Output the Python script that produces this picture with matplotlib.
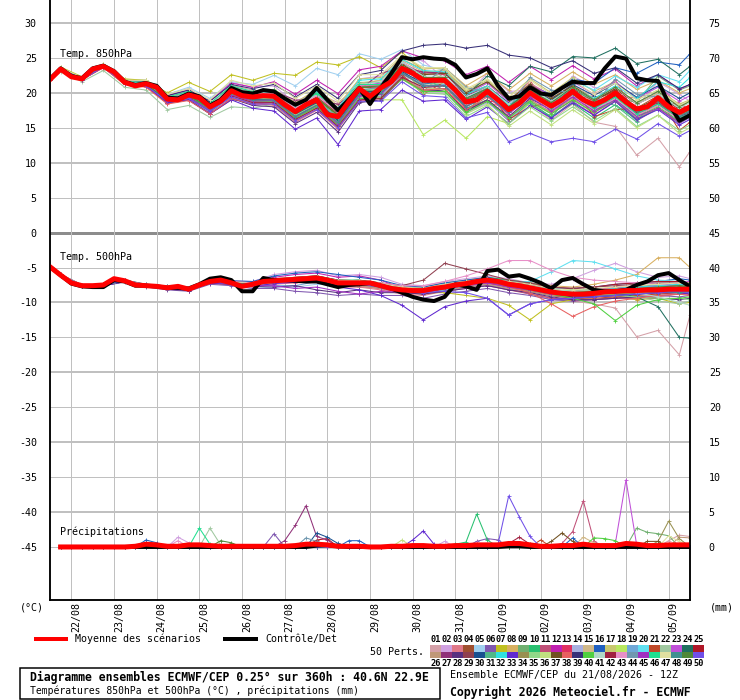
import matplotlib
matplotlib.use("Agg")
import matplotlib.pyplot as plt
from matplotlib.lines import Line2D
from matplotlib.patches import Rectangle

plt.rcParams["font.family"] = ["DejaVu Sans Mono"]
plt.rcParams["axes.unicode_minus"] = False

W, H = 740, 700

# ---------------- data ----------------
# 6-hourly steps for mean / control (hours since 21/08 12Z)
HOURS_6H = list(range(0, 361, 6))
# members are read every 12 h (18Z / 06Z) plus both ends
HOURS_MEM = [0] + list(range(6, 360, 12)) + [360]
PRECIP_HOURS = list(range(6, 361, 6))

DAY_HOURS = list(range(12, 360, 24))
DAY_LABELS = ["22/08", "23/08", "24/08", "25/08", "26/08", "27/08", "28/08", "29/08",
              "30/08", "31/08", "01/09", "02/09", "03/09", "04/09", "05/09"]

T850_MEAN = [21.9, 23.4, 22.3, 22.0, 23.4, 23.8, 23.0, 21.5, 21.0, 21.3,
             20.8, 19.1, 19.0, 19.7, 19.3, 18.0, 18.8, 20.3, 19.6, 19.4,
             19.6, 19.5, 18.3, 17.3, 18.3, 19.0, 16.9, 16.6, 18.7, 20.6,
             19.5, 20.7, 21.6, 23.5, 22.8, 21.8, 21.8, 21.8, 20.4, 18.7,
             19.0, 20.2, 19.0, 17.6, 18.5, 20.0, 19.0, 18.1, 19.0, 20.2,
             19.0, 18.3, 19.0, 20.0, 18.7, 17.7, 18.0, 19.3, 18.0, 17.2, 18.0]
T850_CTRL = [22.0, 23.5, 22.4, 22.1, 23.5, 23.9, 23.1, 21.6, 21.1, 21.4,
             21.0, 19.3, 19.2, 19.9, 19.5, 18.2, 19.0, 20.7, 20.1, 19.9,
             20.4, 20.2, 19.2, 18.3, 19.0, 20.7, 19.0, 17.5, 19.0, 20.7,
             18.4, 20.7, 22.8, 25.1, 24.8, 25.1, 24.9, 24.8, 24.0, 22.2,
             22.7, 23.5, 21.0, 19.2, 19.5, 20.8, 19.9, 19.7, 20.7, 21.6,
             21.4, 21.4, 23.5, 25.2, 24.9, 22.1, 21.8, 21.7, 18.5, 16.0, 16.8]

T500_MEAN = [-4.9, -6.1, -7.2, -7.6, -7.6, -7.5, -6.6, -6.9, -7.5, -7.6,
             -7.7, -7.9, -7.7, -8.1, -7.5, -7.0, -6.8, -7.2, -7.7, -7.4,
             -7.0, -6.9, -6.8, -6.7, -6.6, -6.5, -6.8, -7.2, -7.2, -7.2,
             -7.2, -7.6, -8.0, -8.2, -8.3, -8.3, -8.0, -7.8, -7.5, -7.3,
             -7.0, -6.8, -7.0, -7.4, -7.6, -7.9, -8.2, -8.5, -8.7, -8.8,
             -8.8, -8.7, -8.5, -8.4, -8.3, -8.3, -8.2, -8.2, -8.1, -8.1, -8.1]
T500_CTRL = [-4.9, -6.1, -7.3, -7.7, -7.8, -7.8, -6.8, -7.0, -7.6, -7.6,
             -7.7, -7.9, -7.9, -8.0, -7.4, -6.6, -6.4, -6.8, -8.4, -8.4,
             -6.5, -6.8, -6.8, -6.9, -7.0, -7.0, -7.4, -7.8, -7.5, -7.4,
             -7.2, -7.6, -8.0, -8.6, -9.2, -9.6, -9.8, -9.2, -7.4, -7.7,
             -8.2, -5.5, -5.3, -6.3, -6.1, -6.6, -7.2, -8.0, -6.8, -6.5,
             -7.4, -8.2, -8.4, -8.4, -8.2, -7.5, -7.0, -6.1, -5.8, -6.8, -7.7]

T850_MEMBERS = [
    [21.9,23.6,21.8,23.9,21.8,21.1,19.6,20.0,17.5,21.1,20.4,20.0,18.8,20.0,18.6,21.1,20.2,22.5,21.8,20.3,18.2,20.7,16.6,18.5,16.1,18.4,15.8,15.2,11.1,13.5,9.4,11.6],
    [21.8,23.3,22.1,24.0,21.7,21.8,19.8,20.6,18.9,21.5,20.8,21.0,18.5,20.4,17.9,22.0,22.4,25.0,24.6,22.0,19.6,22.8,20.2,20.4,18.6,22.4,20.8,20.2,18.0,21.6,19.8,18.8],
    [22.0,23.2,21.9,23.6,21.2,20.9,18.6,19.0,17.2,19.6,18.5,18.2,15.8,17.5,14.8,18.9,19.5,22.0,22.4,20.2,18.4,18.6,17.8,21.4,19.6,19.2,17.0,19.8,19.2,21.6,17.6,19.0],
    [21.9,23.5,22.1,23.8,21.6,21.0,18.5,19.0,17.0,19.0,18.8,19.8,17.9,19.9,17.0,20.2,20.8,24.2,22.8,22.9,19.8,21.0,18.5,20.9,19.0,21.0,19.0,20.2,17.5,19.0,16.5,17.0],
    [21.9,23.6,22.2,24.0,21.9,21.8,19.8,20.8,19.2,21.6,21.2,22.5,21.0,23.5,22.6,25.6,24.8,26.2,24.0,23.2,20.0,21.5,18.8,20.5,18.2,19.8,17.5,19.2,16.8,18.4,16.5,17.3],
    [21.8,23.4,22.0,23.7,21.3,21.4,19.5,20.0,18.3,20.2,19.0,18.8,16.5,18.2,15.5,19.5,20.1,23.0,20.8,20.5,17.2,18.8,16.0,18.6,16.5,18.8,16.8,18.8,16.0,17.8,15.6,16.5],
    [22.0,23.7,22.3,24.1,22.0,21.8,20.0,21.5,20.2,22.6,21.8,22.8,22.5,24.4,24.0,25.2,23.6,25.8,23.2,22.0,19.0,20.8,17.2,19.6,17.6,19.9,18.0,19.4,17.0,18.8,16.6,17.4],
    [21.9,23.3,21.9,23.8,21.6,21.2,19.0,19.6,17.8,20.5,19.6,19.9,17.6,19.4,17.0,21.2,21.8,24.8,23.4,23.6,21.0,22.8,20.4,22.8,21.0,23.0,21.2,22.6,20.5,21.8,20.0,20.6],
    [21.9,23.4,22.0,23.8,21.4,21.2,19.0,19.5,17.6,19.9,19.0,19.2,16.8,18.8,16.2,20.3,20.4,23.4,20.2,23.0,20.6,19.8,17.2,20.2,18.8,21.0,17.4,19.4,18.6,22.4,20.4,21.0],
    [21.9,23.5,22.1,23.9,21.5,21.4,19.2,19.9,18.1,20.6,19.9,20.4,18.4,20.0,17.6,21.5,21.5,24.0,21.6,21.0,17.8,19.0,16.4,18.5,16.6,18.5,16.4,18.3,16.2,17.8,15.8,16.8],
    [21.8,23.3,21.9,23.7,21.4,21.1,18.9,19.4,17.6,19.8,18.8,18.6,16.2,17.8,15.2,19.2,19.4,22.4,20.5,20.6,17.5,19.0,16.3,19.0,17.2,19.6,17.8,19.8,17.4,19.1,17.0,17.6],
    [21.9,23.5,22.1,23.9,21.7,21.6,19.6,20.4,18.8,21.4,20.8,21.6,19.8,21.8,19.9,23.3,23.8,26.0,25.0,24.6,22.6,23.8,21.5,23.8,21.9,23.9,22.0,23.4,21.0,22.6,20.5,21.2],
    [21.9,23.4,21.9,23.7,21.4,21.0,18.8,19.2,17.4,19.4,18.4,18.6,16.4,18.6,16.0,20.0,20.4,23.2,23.0,22.6,17.6,18.8,18.6,21.8,17.0,19.0,19.6,21.8,16.8,18.2,18.6,17.4],
    [21.9,23.3,22.0,23.8,21.6,21.3,19.4,20.2,18.4,20.8,19.6,19.4,17.0,18.4,15.8,19.8,19.6,22.5,20.4,20.2,17.0,18.6,16.2,18.8,17.0,19.4,17.6,19.6,17.0,18.4,16.4,17.2],
    [21.9,23.6,22.0,23.9,21.6,21.5,19.4,20.0,18.2,20.6,19.8,20.0,17.8,19.6,17.4,21.4,21.8,24.6,23.0,23.2,20.2,21.6,19.0,21.4,19.2,21.2,19.2,20.8,18.6,20.0,18.2,18.8],
    [21.9,23.4,22.0,23.8,21.5,21.2,18.9,19.5,17.6,19.9,19.0,19.0,16.6,18.4,15.6,19.6,19.8,22.8,21.2,21.8,19.2,20.8,18.6,21.0,19.8,22.0,21.4,23.6,22.8,24.4,24.0,25.6],
    [21.9,23.4,22.1,23.9,21.6,21.4,19.3,20.1,18.4,20.9,20.1,20.5,18.6,20.5,18.2,22.0,22.2,25.2,23.6,23.4,20.4,21.8,19.4,22.0,20.0,22.2,20.2,21.6,19.0,20.4,18.4,19.0],
    [21.9,23.5,22.0,23.8,21.5,21.2,19.2,19.6,17.8,20.4,19.6,19.8,17.8,19.4,17.5,20.8,19.0,19.0,14.0,16.1,13.5,16.6,15.6,18.6,17.0,19.6,18.0,19.8,17.2,19.0,16.8,17.6],
    [21.9,23.3,21.9,23.7,21.3,21.0,18.7,19.2,17.2,19.5,18.6,18.6,16.2,17.9,15.3,19.4,19.8,22.7,21.0,21.2,18.4,19.8,17.2,19.6,17.8,19.8,17.8,19.6,17.2,18.8,16.8,17.4],
    [21.9,23.4,22.0,23.9,21.5,21.3,19.2,19.8,18.1,20.2,19.4,19.4,17.0,18.8,16.4,20.4,20.6,23.6,22.0,22.2,19.0,20.6,18.2,20.8,19.4,21.8,20.4,22.4,20.8,22.6,21.6,23.2],
    [21.9,23.4,22.0,23.8,21.5,21.3,19.0,19.4,17.6,19.8,18.9,19.2,16.9,18.4,15.9,19.7,19.9,22.6,19.8,21.6,18.8,20.6,16.2,18.0,18.6,20.8,16.6,17.6,17.8,19.6,14.6,15.8],
    [21.8,23.0,21.6,23.2,20.8,20.4,17.6,18.2,16.5,18.0,17.8,18.4,16.0,18.2,15.6,19.6,20.0,23.0,21.2,21.4,18.6,20.2,17.8,20.4,18.6,20.6,18.6,20.2,17.8,19.2,17.0,17.8],
    [21.9,23.5,22.1,23.9,21.6,21.4,19.4,20.2,18.4,20.8,20.0,20.2,18.0,19.8,17.4,21.0,21.4,24.4,22.6,22.8,19.8,21.4,18.8,21.2,19.6,21.6,19.8,21.6,19.2,20.8,18.8,19.6],
    [21.9,23.4,22.0,23.8,21.4,21.2,19.0,19.6,17.8,20.1,19.2,19.2,16.9,18.7,16.2,20.2,20.2,23.2,21.8,22.2,19.6,22.4,21.0,23.8,23.0,25.2,25.0,26.4,24.2,24.8,22.6,23.8],
    [21.9,23.5,22.0,23.9,21.6,21.5,19.4,19.9,18.2,20.6,19.8,20.0,17.6,19.4,17.0,20.8,20.8,23.6,21.8,21.6,18.6,20.0,17.6,20.2,18.4,20.6,18.8,20.6,18.4,19.8,17.6,18.2],
    [21.9,23.4,21.9,23.7,21.4,21.1,18.8,19.3,17.5,19.6,18.7,18.8,16.4,18.0,15.4,19.2,19.4,22.2,20.4,20.2,17.4,18.9,16.4,19.0,17.2,19.2,17.2,18.8,16.4,17.8,15.8,16.6],
    [21.9,23.5,22.0,23.9,21.6,21.4,19.3,20.0,18.3,20.7,19.9,20.2,19.0,18.8,18.4,20.4,22.8,23.6,23.0,22.8,19.6,20.8,18.0,20.2,18.2,20.2,18.0,19.6,17.0,18.4,16.2,16.8],
    [21.9,23.3,21.9,23.7,21.3,21.0,18.6,19.0,17.0,19.2,18.2,18.0,15.6,17.2,14.4,18.6,19.0,22.0,20.2,20.4,17.4,19.0,16.6,19.2,17.6,19.6,17.8,19.6,17.2,18.8,16.6,17.2],
    [21.9,23.4,22.0,23.8,21.5,21.3,19.1,19.8,18.0,20.4,19.6,19.8,17.6,19.4,17.0,20.9,21.2,24.0,22.2,22.0,19.0,20.4,17.8,20.2,18.2,20.2,18.2,19.8,17.4,18.8,16.8,17.4],
    [21.9,23.4,22.0,23.8,21.5,21.2,19.0,19.4,17.7,20.0,19.0,19.2,16.8,18.6,16.0,20.0,20.2,23.0,21.4,21.6,18.8,20.4,18.0,20.6,19.0,21.2,19.6,21.4,19.4,21.0,19.2,20.0],
    [21.9,23.5,22.1,23.9,21.6,21.4,19.3,19.9,18.2,20.5,19.6,19.6,17.4,19.0,16.6,20.4,20.4,23.2,22.6,20.2,17.0,20.8,18.4,18.6,16.4,20.4,19.0,18.2,15.8,19.8,17.8,16.6],
    [21.9,23.4,22.0,23.8,21.5,21.3,19.1,19.8,18.1,20.5,19.8,20.2,18.2,20.2,17.8,21.8,22.0,24.8,23.2,23.0,19.8,21.0,18.2,20.4,18.4,20.8,19.2,21.0,19.2,21.6,20.8,22.2],
    [21.9,23.4,21.9,23.7,21.3,21.0,18.6,19.0,17.0,19.0,17.8,17.4,14.8,16.4,12.6,17.4,17.6,20.4,18.8,19.0,16.2,18.0,15.6,18.2,16.4,18.6,16.8,18.8,16.2,17.6,15.4,16.2],
    [21.9,23.5,22.0,23.8,21.6,21.4,19.2,19.8,18.2,20.6,19.7,19.8,17.6,19.3,16.9,20.8,21.0,23.8,22.0,22.0,18.9,20.4,17.8,20.2,18.2,20.2,18.2,19.8,17.4,18.8,16.8,17.6],
    [21.9,23.4,22.0,23.9,21.5,21.3,19.1,19.7,18.0,20.2,19.2,19.2,16.8,18.4,15.8,19.6,19.4,22.0,20.0,19.8,16.6,18.2,15.6,18.0,16.0,18.0,16.0,17.8,15.2,16.8,14.6,15.4],
    [21.9,23.5,22.1,23.8,21.6,21.3,19.2,19.8,18.1,20.3,19.5,19.6,17.4,19.2,16.8,20.6,20.5,22.8,20.8,20.4,17.0,18.4,15.2,17.4,15.4,17.6,15.6,17.6,15.0,16.8,14.2,15.0],
    [21.9,23.4,22.0,23.8,21.5,21.3,19.0,19.6,17.8,20.2,19.4,19.6,17.4,19.2,16.8,20.8,21.0,24.0,22.6,22.8,20.0,21.6,19.0,21.2,19.2,21.0,19.0,20.4,17.8,19.2,17.0,17.6],
    [21.9,23.3,21.9,23.6,21.2,20.8,18.4,18.9,17.0,19.2,18.4,18.4,16.0,17.6,15.0,18.8,19.2,22.0,20.4,20.6,17.6,19.4,17.0,19.6,17.8,20.0,18.0,19.8,17.6,19.0,17.0,17.8],
    [21.9,23.5,22.1,23.9,21.7,21.6,19.6,20.4,18.8,21.2,20.6,21.2,19.4,21.2,19.2,22.6,23.2,26.0,26.8,27.0,26.4,26.8,25.4,25.0,23.6,24.6,22.8,23.6,21.4,22.6,20.6,21.2],
    [21.9,23.4,22.0,23.8,21.5,21.2,19.0,19.5,17.6,19.8,18.8,18.8,16.4,18.0,15.4,19.2,19.2,22.0,20.2,20.2,17.2,18.8,16.4,18.8,17.0,19.0,17.2,19.0,16.6,18.0,16.0,16.8],
    [21.9,23.5,22.1,23.9,21.6,21.5,19.4,20.1,18.4,20.8,20.0,20.2,18.0,19.8,17.6,21.2,21.6,24.4,22.4,22.4,19.4,20.8,18.4,20.8,18.8,20.8,19.0,20.8,18.4,19.8,17.8,18.6],
    [21.9,23.4,22.0,23.8,21.4,21.1,18.8,19.3,17.4,19.6,18.6,18.6,16.2,17.8,15.2,19.0,19.2,22.2,20.8,21.0,18.2,19.8,17.4,19.8,18.0,20.0,18.0,19.6,17.2,18.6,16.4,17.0],
    [21.9,23.4,22.0,23.8,21.5,21.3,19.2,19.9,18.2,20.6,19.8,20.0,17.8,19.6,17.2,21.0,21.0,23.8,21.8,21.6,18.4,19.8,17.2,19.6,17.6,19.6,17.6,19.2,16.8,18.2,16.2,17.0],
    [21.9,23.5,22.0,23.8,21.6,21.4,19.2,19.8,18.0,20.2,19.2,19.4,17.2,18.8,16.4,20.4,20.8,23.8,21.2,23.6,20.8,20.0,17.8,22.2,20.4,20.0,18.2,22.0,19.8,19.4,16.8,18.2],
    [21.9,23.4,21.9,23.7,21.4,21.1,18.8,19.3,17.5,19.7,18.8,18.9,16.6,18.2,15.6,19.6,19.8,22.8,21.0,21.0,18.0,19.6,17.0,19.4,17.4,19.4,17.4,19.0,16.6,17.8,15.8,16.6],
    [21.9,23.5,22.1,23.9,21.6,21.5,19.4,20.2,18.5,21.0,20.2,20.4,18.2,19.9,17.6,21.2,21.2,23.8,21.8,21.8,18.6,20.2,17.6,19.8,17.8,19.8,17.8,19.4,17.0,18.4,16.4,17.0],
    [21.9,23.6,22.2,24.1,21.8,21.8,19.8,20.6,19.0,21.8,21.0,21.4,19.2,21.0,18.8,22.6,22.6,25.4,23.6,23.6,20.6,22.0,19.4,21.8,19.8,21.8,19.8,21.4,19.0,20.4,18.2,18.8],
    [21.9,23.4,22.0,23.8,21.5,21.2,19.0,19.6,17.8,20.0,19.0,19.0,16.6,18.2,15.8,19.8,20.0,22.8,21.0,21.0,18.0,19.6,17.2,19.8,18.0,20.0,18.0,19.8,17.4,18.8,16.6,17.4],
    [21.9,23.4,22.0,23.8,21.4,21.2,19.0,19.6,17.9,20.2,19.4,19.6,17.4,19.2,16.8,20.8,21.0,23.8,22.2,22.2,19.2,20.6,18.0,20.4,18.6,20.8,19.0,20.8,18.6,20.2,18.0,18.8],
    [21.9,23.4,22.0,23.7,21.4,21.0,18.8,19.2,17.4,19.4,18.4,18.4,16.0,17.6,15.0,18.8,18.8,21.6,19.6,19.4,16.4,17.2,13.0,14.2,13.0,13.5,13.0,14.8,13.4,15.6,13.8,14.6],
]

T500_MEMBERS = [
    [-4.9,-6.1,-7.5,-7.6,-7.0,-7.7,-8.0,-8.3,-7.2,-7.4,-7.8,-7.2,-6.9,-6.8,-7.6,-7.8,-8.0,-8.6,-8.8,-8.2,-7.8,-7.4,-8.0,-8.8,-9.6,-9.8,-10.2,-10.8,-14.9,-14.0,-17.5,-11.8],
    [-4.9,-6.0,-7.5,-7.4,-6.8,-7.5,-7.7,-8.0,-6.8,-6.9,-7.0,-6.0,-5.6,-5.4,-6.2,-6.0,-6.4,-7.4,-7.6,-7.0,-6.6,-6.2,-6.6,-7.2,-7.4,-6.6,-5.4,-4.4,-5.6,-6.4,-6.2,-6.6],
    [-4.9,-6.1,-7.7,-7.6,-7.0,-7.7,-8.1,-8.3,-7.3,-7.5,-7.8,-7.4,-7.2,-7.0,-7.8,-7.8,-8.2,-8.8,-9.0,-8.4,-7.8,-7.4,-8.2,-8.6,-9.4,-9.8,-9.6,-9.2,-9.6,-9.2,-8.8,-8.6],
    [-4.9,-6.1,-7.6,-7.4,-6.8,-7.5,-7.8,-8.0,-6.9,-7.0,-7.2,-6.6,-6.4,-6.2,-7.0,-6.8,-7.4,-8.0,-8.0,-7.4,-7.0,-6.6,-7.2,-7.6,-8.2,-8.4,-8.2,-8.0,-7.6,-7.8,-7.6,-7.8],
    [-4.9,-6.1,-7.6,-7.5,-6.9,-7.6,-8.0,-8.2,-7.2,-7.4,-8.0,-7.8,-7.8,-7.4,-7.4,-7.6,-7.8,-8.4,-8.6,-8.0,-7.6,-7.2,-7.8,-8.4,-9.0,-9.2,-9.0,-8.8,-8.6,-8.4,-8.2,-8.4],
    [-4.9,-6.2,-7.7,-7.6,-7.1,-7.8,-8.2,-8.4,-7.4,-7.6,-8.0,-8.0,-8.4,-8.6,-9.0,-8.8,-9.0,-9.0,-9.4,-8.8,-8.4,-8.0,-8.6,-9.0,-9.6,-9.8,-9.6,-9.4,-9.2,-9.0,-9.2,-9.0],
    [-4.9,-6.1,-7.6,-7.5,-6.9,-7.6,-7.9,-8.0,-7.0,-7.2,-7.4,-7.0,-6.8,-6.6,-7.2,-7.4,-7.8,-8.4,-8.6,-8.6,-9.0,-9.4,-10.4,-12.5,-10.2,-9.6,-9.2,-9.0,-9.6,-9.4,-10.2,-10.0],
    [-4.9,-6.0,-7.5,-7.4,-6.8,-7.4,-7.7,-7.9,-6.8,-7.0,-7.1,-6.6,-6.4,-6.2,-6.8,-6.9,-7.2,-7.8,-7.8,-7.2,-6.8,-6.4,-6.8,-7.2,-7.6,-7.8,-7.4,-6.8,-6.0,-3.6,-3.6,-5.0],
    [-4.9,-6.1,-7.6,-7.5,-6.9,-7.6,-7.9,-8.1,-7.0,-7.2,-7.5,-7.0,-6.8,-6.6,-7.4,-7.4,-7.8,-8.4,-8.4,-7.8,-7.4,-7.0,-7.6,-8.0,-8.6,-8.8,-8.6,-8.2,-8.0,-7.8,-7.6,-7.8],
    [-4.9,-6.1,-7.5,-7.4,-6.8,-7.5,-7.8,-8.0,-6.9,-7.0,-7.2,-6.8,-6.5,-6.2,-6.8,-6.8,-7.2,-7.8,-8.0,-7.6,-7.0,-6.4,-6.8,-7.2,-7.8,-8.2,-8.2,-8.0,-7.8,-7.4,-7.2,-7.4],
    [-4.9,-6.1,-7.6,-7.5,-7.0,-7.7,-8.0,-8.2,-7.1,-7.3,-7.6,-7.2,-7.0,-6.8,-7.6,-7.6,-8.0,-8.6,-8.8,-8.4,-8.0,-7.6,-8.2,-8.8,-9.4,-9.6,-9.6,-9.4,-9.4,-9.0,-8.8,-8.8],
    [-4.9,-6.1,-7.6,-7.5,-6.9,-7.6,-7.9,-8.1,-7.0,-7.2,-7.4,-6.4,-6.0,-5.8,-6.4,-6.2,-6.8,-8.0,-8.2,-7.6,-7.0,-6.6,-7.0,-7.6,-8.2,-8.4,-8.2,-7.8,-7.8,-7.6,-7.6,-7.8],
    [-4.9,-6.1,-7.7,-7.6,-7.0,-7.7,-8.0,-8.2,-7.2,-7.4,-7.6,-7.1,-6.9,-6.8,-7.4,-7.5,-7.9,-8.5,-8.6,-8.1,-7.6,-7.2,-7.8,-8.2,-8.8,-9.2,-9.0,-8.6,-8.4,-8.0,-7.4,-7.0],
    [-4.9,-6.1,-7.6,-7.5,-6.9,-7.6,-7.9,-8.1,-7.1,-7.3,-7.6,-7.1,-7.0,-6.8,-7.4,-7.4,-7.8,-8.2,-8.4,-7.9,-7.5,-7.0,-7.6,-8.0,-8.6,-9.0,-8.8,-8.6,-8.4,-8.4,-8.2,-8.2],
    [-4.9,-6.1,-7.6,-7.5,-6.9,-7.6,-7.8,-8.0,-6.9,-7.1,-7.3,-6.8,-6.6,-6.4,-7.0,-7.0,-7.4,-8.0,-8.2,-7.6,-7.2,-6.8,-7.2,-7.6,-8.2,-8.4,-8.2,-8.0,-8.0,-8.2,-8.0,-8.0],
    [-4.9,-6.1,-7.5,-7.4,-6.8,-7.4,-7.7,-7.9,-6.8,-6.9,-7.0,-6.2,-5.8,-5.6,-6.0,-6.4,-6.8,-7.6,-7.8,-7.2,-6.8,-6.4,-7.0,-7.4,-8.0,-8.0,-7.8,-7.4,-7.2,-7.0,-6.6,-6.8],
    [-4.9,-6.1,-7.6,-7.5,-6.9,-7.6,-7.9,-8.1,-7.0,-7.2,-7.5,-7.0,-6.8,-6.6,-7.2,-7.3,-7.7,-8.3,-8.4,-7.9,-7.4,-7.0,-7.6,-8.0,-8.8,-9.0,-8.8,-8.6,-8.4,-8.2,-8.0,-8.2],
    [-4.9,-6.1,-7.6,-7.5,-6.9,-7.6,-7.9,-8.0,-7.0,-7.1,-7.3,-6.8,-6.6,-6.4,-7.0,-7.1,-7.5,-8.0,-8.0,-7.6,-7.2,-6.8,-7.4,-7.8,-8.4,-8.6,-8.6,-8.2,-8.2,-8.0,-7.8,-8.0],
    [-4.9,-6.1,-7.6,-7.6,-7.0,-7.7,-8.0,-8.2,-7.1,-7.4,-7.6,-7.6,-7.6,-7.0,-7.4,-7.5,-7.9,-8.4,-8.6,-8.2,-7.8,-7.4,-8.0,-8.4,-9.0,-9.4,-9.2,-9.0,-8.8,-8.8,-8.6,-8.6],
    [-4.9,-6.0,-7.5,-7.4,-6.8,-7.5,-7.8,-8.0,-6.9,-7.0,-7.2,-6.7,-6.5,-6.3,-7.0,-7.0,-7.4,-7.9,-8.0,-7.4,-7.0,-6.6,-7.0,-7.0,-5.6,-4.0,-4.2,-5.2,-6.2,-6.8,-7.0,-7.2],
    [-4.9,-6.1,-7.6,-7.5,-6.9,-7.6,-7.9,-8.1,-7.1,-7.3,-7.5,-7.0,-6.8,-6.6,-7.3,-7.4,-7.8,-8.4,-8.6,-8.0,-7.6,-7.2,-7.8,-8.4,-9.0,-9.4,-9.4,-9.2,-9.0,-8.8,-8.6,-8.8],
    [-4.9,-6.1,-7.6,-7.5,-6.9,-7.6,-7.9,-8.1,-7.0,-7.2,-7.4,-6.9,-6.7,-6.5,-7.2,-7.2,-7.6,-8.2,-8.2,-7.8,-7.2,-6.8,-7.4,-7.8,-8.4,-8.8,-8.8,-8.8,-9.2,-9.8,-10.2,-9.8],
    [-4.9,-6.1,-7.6,-7.5,-6.9,-7.6,-7.9,-8.1,-7.0,-7.2,-7.4,-6.9,-6.7,-6.5,-7.1,-7.1,-7.5,-8.0,-8.2,-7.6,-7.2,-6.8,-7.2,-7.6,-8.2,-8.6,-8.4,-8.0,-7.8,-7.6,-7.2,-7.0],
    [-4.9,-6.1,-7.6,-7.5,-6.9,-7.6,-7.9,-8.1,-7.0,-7.2,-7.4,-6.9,-6.7,-6.5,-7.2,-7.2,-7.6,-8.2,-8.3,-7.8,-7.3,-6.8,-7.4,-7.9,-8.5,-8.8,-8.7,-8.6,-9.2,-10.6,-15.0,-15.1],
    [-4.9,-6.1,-7.6,-7.5,-6.9,-7.6,-7.8,-8.0,-6.9,-7.1,-7.2,-6.8,-6.5,-6.4,-7.0,-7.0,-7.4,-7.9,-8.0,-7.5,-7.0,-6.6,-7.0,-7.4,-7.8,-8.0,-7.8,-7.4,-7.2,-7.0,-7.0,-7.2],
    [-4.9,-6.1,-7.6,-7.5,-7.0,-7.7,-8.0,-8.2,-7.2,-7.4,-7.6,-7.2,-7.0,-6.9,-7.4,-7.6,-8.0,-8.6,-8.8,-8.4,-7.8,-7.4,-8.0,-8.4,-9.0,-9.2,-9.0,-8.8,-8.6,-8.6,-8.4,-8.4],
    [-4.9,-6.1,-7.6,-7.5,-6.9,-7.6,-7.9,-8.1,-7.0,-7.2,-7.4,-6.9,-6.7,-6.5,-7.2,-7.2,-7.6,-8.2,-8.4,-7.8,-7.4,-7.0,-7.6,-8.0,-8.6,-9.0,-9.0,-8.8,-8.6,-8.4,-8.4,-8.6],
    [-4.9,-6.2,-7.7,-7.6,-7.0,-7.7,-8.1,-8.3,-7.2,-7.4,-7.7,-7.8,-7.6,-8.2,-8.6,-8.2,-8.6,-8.6,-8.8,-8.4,-8.0,-7.6,-8.2,-8.6,-9.2,-9.6,-9.6,-9.4,-9.2,-9.4,-9.6,-9.4],
    [-4.9,-6.0,-7.5,-7.4,-6.8,-7.5,-7.8,-8.0,-6.9,-7.0,-7.2,-6.7,-6.4,-6.2,-6.8,-6.9,-7.2,-7.6,-6.8,-4.4,-5.2,-6.0,-6.8,-7.2,-7.8,-8.0,-7.8,-7.6,-7.4,-7.2,-7.2,-7.4],
    [-4.9,-6.1,-7.6,-7.5,-6.9,-7.6,-7.9,-8.1,-7.0,-7.2,-7.4,-7.0,-6.7,-6.6,-7.2,-7.3,-7.6,-8.2,-8.4,-7.8,-7.4,-7.0,-7.6,-8.0,-8.6,-8.8,-8.6,-8.4,-8.2,-8.0,-7.8,-7.8],
    [-4.9,-6.1,-7.6,-7.5,-6.9,-7.6,-7.9,-8.1,-7.0,-7.2,-7.4,-6.9,-6.7,-6.5,-7.2,-7.2,-7.6,-8.2,-8.3,-7.8,-7.3,-6.8,-7.4,-7.8,-8.4,-8.6,-8.4,-8.2,-8.0,-7.8,-7.6,-7.6],
    [-4.9,-6.1,-7.5,-7.5,-6.9,-7.5,-7.8,-8.0,-6.9,-7.1,-7.3,-6.8,-6.6,-6.4,-7.0,-7.1,-7.5,-8.0,-8.2,-7.6,-7.0,-6.6,-7.2,-7.6,-8.2,-8.4,-8.4,-8.0,-7.8,-7.6,-7.4,-7.4],
    [-4.9,-6.1,-7.6,-7.6,-7.0,-7.7,-8.0,-8.2,-7.2,-7.4,-7.7,-7.3,-7.1,-7.0,-7.8,-8.2,-9.0,-10.4,-12.5,-10.6,-9.8,-9.4,-11.8,-10.2,-9.6,-9.4,-9.2,-9.0,-8.8,-8.6,-8.6,-8.8],
    [-4.9,-6.1,-7.6,-7.5,-6.9,-7.6,-7.9,-8.1,-7.0,-7.2,-7.4,-6.9,-6.7,-6.5,-7.2,-7.2,-7.6,-8.2,-8.3,-7.8,-7.2,-6.8,-7.4,-8.0,-8.6,-9.0,-9.0,-8.8,-8.6,-8.6,-8.4,-8.6],
    [-4.9,-6.1,-7.6,-7.5,-6.9,-7.6,-7.8,-8.0,-7.0,-7.1,-7.3,-6.8,-6.6,-6.4,-7.1,-7.2,-7.6,-8.1,-8.2,-7.8,-7.2,-6.8,-7.4,-7.8,-8.2,-8.6,-8.8,-9.0,-9.2,-9.4,-9.4,-9.6],
    [-4.9,-6.1,-7.6,-7.5,-6.9,-7.6,-7.9,-8.1,-7.0,-7.2,-7.4,-6.9,-6.7,-6.4,-7.0,-7.0,-7.4,-8.0,-8.2,-7.6,-7.0,-6.6,-7.2,-7.6,-8.2,-8.4,-8.4,-8.2,-8.0,-8.0,-7.8,-7.8],
    [-4.9,-6.1,-7.6,-7.5,-6.9,-7.6,-7.9,-8.1,-7.0,-7.2,-7.4,-6.9,-6.6,-6.4,-7.0,-7.0,-7.4,-8.0,-8.2,-7.6,-7.2,-6.8,-7.2,-7.8,-8.4,-8.6,-8.6,-8.4,-8.4,-8.2,-8.0,-8.2],
    [-4.9,-6.1,-7.6,-7.5,-6.9,-7.6,-7.9,-8.1,-7.0,-7.2,-7.4,-7.0,-6.8,-6.6,-7.2,-7.3,-7.7,-8.3,-8.4,-8.0,-7.6,-7.2,-7.8,-8.6,-10.2,-12.0,-10.6,-9.8,-9.4,-9.0,-8.8,-9.0],
    [-4.9,-6.1,-7.6,-7.5,-6.9,-7.6,-7.9,-8.1,-7.0,-7.2,-7.4,-6.9,-6.7,-6.5,-7.2,-7.2,-7.6,-8.2,-8.4,-7.9,-7.4,-7.0,-7.6,-8.2,-8.8,-9.2,-9.2,-9.0,-8.8,-8.6,-8.4,-8.4],
    [-4.9,-6.1,-7.6,-7.5,-6.9,-7.6,-7.9,-8.1,-7.0,-7.2,-7.4,-6.9,-6.7,-6.5,-7.2,-7.2,-7.6,-8.2,-8.4,-7.8,-7.4,-7.0,-7.6,-8.2,-8.8,-9.4,-10.2,-12.6,-10.4,-9.6,-9.4,-9.2],
    [-4.9,-6.1,-7.6,-7.5,-6.9,-7.6,-7.9,-8.0,-7.0,-7.1,-7.3,-6.8,-6.6,-6.4,-7.0,-7.0,-7.4,-8.0,-8.2,-7.6,-7.2,-6.8,-7.2,-7.6,-8.2,-8.4,-8.4,-8.2,-8.6,-9.2,-10.0,-10.4],
    [-4.9,-6.1,-7.6,-7.5,-6.9,-7.6,-7.9,-8.1,-7.1,-7.3,-7.5,-7.0,-6.8,-6.6,-7.2,-7.3,-7.7,-8.2,-8.4,-7.9,-7.5,-7.0,-7.6,-8.0,-8.6,-8.8,-8.6,-8.4,-8.2,-8.0,-8.0,-8.0],
    [-4.9,-6.0,-7.5,-7.4,-6.8,-7.5,-7.8,-8.0,-6.9,-7.0,-7.2,-6.7,-6.5,-6.3,-6.9,-7.0,-7.2,-7.6,-7.6,-7.0,-6.2,-5.2,-4.0,-4.0,-5.4,-6.4,-6.8,-7.0,-7.2,-7.4,-7.2,-7.4],
    [-4.9,-6.1,-7.6,-7.5,-6.9,-7.6,-7.9,-8.1,-7.0,-7.2,-7.4,-6.9,-6.7,-6.5,-7.2,-7.2,-7.6,-8.2,-8.4,-7.8,-7.4,-7.0,-7.6,-8.0,-8.6,-8.8,-8.6,-8.2,-8.0,-7.8,-7.8,-7.8],
    [-4.9,-6.1,-7.6,-7.5,-6.9,-7.6,-8.0,-8.2,-7.1,-7.3,-7.6,-7.6,-8.0,-7.8,-8.4,-8.8,-8.4,-8.4,-8.6,-8.0,-7.6,-7.2,-7.8,-8.2,-8.8,-9.0,-8.8,-8.6,-8.4,-8.2,-8.0,-8.0],
    [-4.9,-6.1,-7.6,-7.5,-6.9,-7.6,-7.9,-8.1,-7.0,-7.2,-7.4,-6.9,-6.7,-6.5,-7.2,-7.2,-7.6,-8.2,-8.2,-7.8,-7.2,-6.8,-7.4,-7.8,-8.4,-8.6,-8.4,-8.2,-8.0,-8.0,-7.8,-7.8],
    [-4.9,-6.1,-7.6,-7.5,-6.9,-7.6,-7.8,-8.0,-6.9,-7.1,-7.3,-6.8,-6.5,-6.3,-6.9,-6.9,-7.3,-7.8,-8.0,-7.4,-7.0,-6.6,-7.0,-7.4,-8.0,-8.2,-8.0,-7.8,-7.6,-7.4,-7.2,-7.2],
    [-4.9,-6.1,-7.6,-7.5,-6.9,-7.6,-7.9,-8.1,-7.0,-7.2,-7.4,-6.9,-6.7,-6.5,-7.2,-7.2,-7.6,-8.2,-8.3,-7.8,-7.3,-6.8,-7.4,-7.9,-8.5,-8.8,-8.6,-8.4,-8.2,-8.4,-8.6,-8.4],
    [-4.9,-6.1,-7.6,-7.5,-6.9,-7.6,-7.9,-8.1,-7.0,-7.2,-7.4,-6.9,-6.7,-6.5,-7.2,-7.2,-7.6,-8.2,-8.3,-7.8,-7.3,-6.8,-7.4,-7.9,-8.4,-8.6,-8.4,-8.2,-8.0,-7.8,-7.6,-7.8],
    [-4.9,-6.1,-7.6,-7.5,-6.9,-7.6,-7.9,-8.1,-7.1,-7.3,-7.5,-7.0,-6.8,-6.6,-7.2,-7.4,-7.8,-8.4,-8.6,-8.4,-8.6,-9.4,-11.8,-10.2,-9.6,-9.4,-9.2,-9.0,-8.8,-8.6,-8.4,-8.6],
]

# 6-hourly precipitation (mm), h = 6 .. 360
PRECIP_MEAN = [0, 0, 0, 0, 0, 0, 0, 0.1, 0.4, 0.3,
               0.1, 0.1, 0.3, 0.3, 0.2, 0.1, 0.1, 0.1, 0.1, 0.1,
               0.1, 0.1, 0.2, 0.4, 0.4, 0.3, 0.1, 0.1, 0.1, 0,
               0, 0.1, 0.1, 0.2, 0.2, 0.1, 0.1, 0.2, 0.2, 0.3,
               0.3, 0.3, 0.5, 0.5, 0.3, 0.1, 0.1, 0.2, 0.2, 0.4,
               0.2, 0.2, 0.2, 0.5, 0.4, 0.2, 0.2, 0.3, 0.3, 0.3]
PRECIP_CTRL = [0, 0, 0, 0, 0, 0, 0, 0, 0, 0,
               0, 0, 0, 0, 0, 0, 0, 0, 0, 0,
               0, 0, 0, 0, 0.2, 0.3, 0.1, 0, 0, 0,
               0, 0, 0, 0, 0, 0, 0, 0, 0, 0,
               0, 0, 0.1, 0.1, 0, 0, 0, 0, 0, 0,
               0, 0, 0, 0, 0, 0, 0, 0, 0, 0]
# member -> {hour: mm}, every other step is dry
PRECIP_EVENTS = {
    1: {348: 0.9, 354: 1.7, 360: 1.5},
    2: {72: 1.4, 78: 0.6, 222: 0.8},
    6: {126: 1.9, 240: 0.8, 246: 1.2, 252: 1.0},
    9: {330: 2.7, 336: 2.1, 342: 1.9, 348: 1.6},
    10: {228: 0.4, 234: 0.7, 240: 4.7, 246: 1.0},
    11: {288: 0.5, 294: 2.2, 300: 6.6, 306: 0.8},
    15: {300: 1.4, 306: 0.6},
    16: {54: 1.0, 60: 0.6, 168: 0.9, 174: 0.9, 294: 1.3},
    21: {276: 1.0},
    22: {90: 2.7, 96: 0.3},
    23: {318: 0.5, 324: 9.6, 330: 0.3},
    25: {150: 1.0, 156: 1.2},
    26: {354: 1.4, 360: 1.3},
    27: {132: 0.9, 138: 3.1, 144: 5.9, 150: 1.5, 156: 1.0},
    30: {150: 2.0, 156: 1.4, 162: 0.5},
    33: {204: 1.0, 210: 2.3, 216: 0.4},
    34: {342: 0.8, 348: 3.7, 354: 1.2},
    36: {198: 1.0},
    37: {282: 0.8, 288: 2.0, 294: 0.8, 336: 0.8, 342: 0.8},
    40: {306: 1.3, 312: 1.2, 318: 0.9},
    42: {258: 0.5, 264: 1.4, 270: 0.4},
    43: {72: 0.9, 240: 0.5},
    44: {144: 1.3, 150: 0.8},
    46: {84: 2.7, 90: 0.4},
    47: {348: 1.6, 354: 0.8},
    49: {96: 0.9, 102: 0.6},
    50: {252: 0.4, 258: 7.3, 264: 4.3, 270: 1.5},
}

MEMBER_COLORS = [
    "#d4a0a8", "#d0a0e0", "#e07888", "#a05030", "#a0d0f0", "#8058b0", "#c0c020", "#d8b060", "#70b070", "#28c070",
    "#c05078", "#c020b0", "#e03060", "#a8b0e0", "#d0b888", "#2060c0", "#c8c870", "#b8e860", "#70a8d8", "#60e0f0",
    "#c04828", "#a0c8a0", "#c050d8", "#207060", "#b01828",
    "#c09878", "#903078", "#583080", "#904050", "#185090", "#50b888", "#30e0e0", "#6028d0", "#989050", "#90d888",
    "#c0e080", "#705020", "#e86060", "#383078", "#50d040", "#b0d8c8", "#a02040", "#e890c8", "#7098b0", "#a030c0",
    "#20e090", "#e0e0a0", "#409090", "#508838", "#7050e8",
]

PRECIP_BASE = -45          # precipitation 0 mm sits on the -45 line
RIGHT_OFFSET = 45          # right hand scale = left scale + 45
Y_TOP, Y_BOTTOM = 33.29, -52.59

GRID = "#c0c0c0"
PX = 0.72                  # one pixel in points at 100 dpi


def fx(x):
    return x / W


def fy(y):
    return 1 - y / H


fig = plt.figure(figsize=(W / 100, H / 100), dpi=100)
ax = fig.add_axes([fx(50), fy(600), 640 / W, 600 / H])
ax.set_xlim(0, 360)
ax.set_ylim(Y_BOTTOM, Y_TOP)

# grid
for v in range(-45, 31, 5):
    if v == 0:
        ax.axhline(v, color="#8c8c8c", lw=3 * PX, zorder=1)
    else:
        ax.axhline(v, color=GRID, lw=(2 if v % 10 == 0 else 1) * PX, zorder=1)
for h in DAY_HOURS:
    ax.axvline(h, color=GRID, lw=PX, zorder=1)

member_style = dict(lw=0.75, marker="+", markersize=3, markeredgewidth=0.6, zorder=2)

# members
for i in range(50):
    c = MEMBER_COLORS[i]
    ax.plot(HOURS_MEM, T850_MEMBERS[i], color=c, **member_style)
    ax.plot(HOURS_MEM, T500_MEMBERS[i], color=c, **member_style)
    ev = PRECIP_EVENTS.get(i + 1, {})
    rr = [PRECIP_BASE + ev.get(h, 0.0) for h in PRECIP_HOURS]
    ax.plot(PRECIP_HOURS, rr, color=c, **member_style)

# control then mean
ax.plot(HOURS_6H, T850_CTRL, color="black", lw=4 * PX, zorder=3)
ax.plot(HOURS_6H, T500_CTRL, color="black", lw=4 * PX, zorder=3)
ax.plot(PRECIP_HOURS, [PRECIP_BASE + v for v in PRECIP_CTRL], color="black", lw=4 * PX, zorder=3)
ax.plot(HOURS_6H, T850_MEAN, color="#ff0000", lw=5 * PX, zorder=4)
ax.plot(HOURS_6H, T500_MEAN, color="#ff0000", lw=5 * PX, zorder=4)
ax.plot(PRECIP_HOURS, [PRECIP_BASE + v for v in PRECIP_MEAN], color="#ff0000", lw=5 * PX, zorder=4)

# axes frame
ax.spines["top"].set_visible(False)
for s in ("left", "right", "bottom"):
    ax.spines[s].set_linewidth(1.5 * PX)
    ax.spines[s].set_color("black")

ax.set_yticks(range(-45, 31, 5))
ax.set_yticklabels([str(v) for v in range(-45, 31, 5)])
ax.tick_params(axis="y", length=0, pad=9.5, labelsize=7.2)
ax.set_xticks(DAY_HOURS)
ax.set_xticklabels(DAY_LABELS, rotation=90, ha="left", va="top")
ax.tick_params(axis="x", length=0, pad=1.5, labelsize=7.2)

ax2 = ax.twinx()
ax2.set_ylim(Y_BOTTOM + RIGHT_OFFSET, Y_TOP + RIGHT_OFFSET)
ax2.set_yticks(range(0, 76, 5))
ax2.tick_params(axis="y", length=0, pad=13.5, labelsize=7.2)
ax2.spines["top"].set_visible(False)
for s in ("left", "right", "bottom"):
    ax2.spines[s].set_linewidth(1.5 * PX)

# panel titles
txt = dict(fontsize=7.2, va="center", ha="left")
fig.text(fx(60), fy(54), "Temp. 850hPa", **txt)
fig.text(fx(60), fy(257), "Temp. 500hPa", **txt)
fig.text(fx(60), fy(532), "Précipitations", **txt)
fig.text(fx(20), fy(607), "(°C)", **txt)
fig.text(fx(710), fy(607), "(mm)", **txt)

# legend
fig.add_artist(Line2D([fx(36), fx(66)], [fy(639), fy(639)], color="#ff0000", lw=4 * PX))
fig.text(fx(75), fy(639), "Moyenne des scénarios", **txt)
fig.add_artist(Line2D([fx(225), fx(256)], [fy(639), fy(639)], color="black", lw=4 * PX))
fig.text(fx(265), fy(639), "Contrôle/Det", **txt)

fig.text(fx(370), fy(652), "50 Perts.", **txt)
sw_w, sw_h = 10.96, 6.5
for i, c in enumerate(MEMBER_COLORS):
    col, row = i % 25, i // 25
    x0 = 430 + col * sw_w
    y0 = 645 + row * sw_h
    fig.add_artist(Rectangle((fx(x0), fy(y0 + sw_h)), sw_w / W, sw_h / H,
                             transform=fig.transFigure, color=c, lw=0))
    ny = 640 if row == 0 else 664
    fig.text(fx(x0 + sw_w / 2), fy(ny), f"{i + 1:02d}", fontsize=6.2,
             ha="center", va="center", fontweight="bold")

# title block
fig.add_artist(Rectangle((fx(20), fy(699)), 420 / W, 31 / H, transform=fig.transFigure,
                         fill=False, edgecolor="black", lw=1.5 * PX))
fig.text(fx(30), fy(677), "Diagramme ensembles ECMWF/CEP 0.25° sur 360h : 40.6N 22.9E",
         fontsize=8.3, fontweight="bold", ha="left", va="center")
fig.text(fx(30), fy(691), "Températures 850hPa et 500hPa (°C) , précipitations (mm)",
         fontsize=7.05, ha="left", va="center")
fig.text(fx(450), fy(675), "Ensemble ECMWF/CEP du 21/08/2026 - 12Z", **txt)
fig.text(fx(450), fy(692), "Copyright 2026 Meteociel.fr - ECMWF",
         fontsize=8.3, fontweight="bold", ha="left", va="center")

fig.savefig("out.png", dpi=100)
